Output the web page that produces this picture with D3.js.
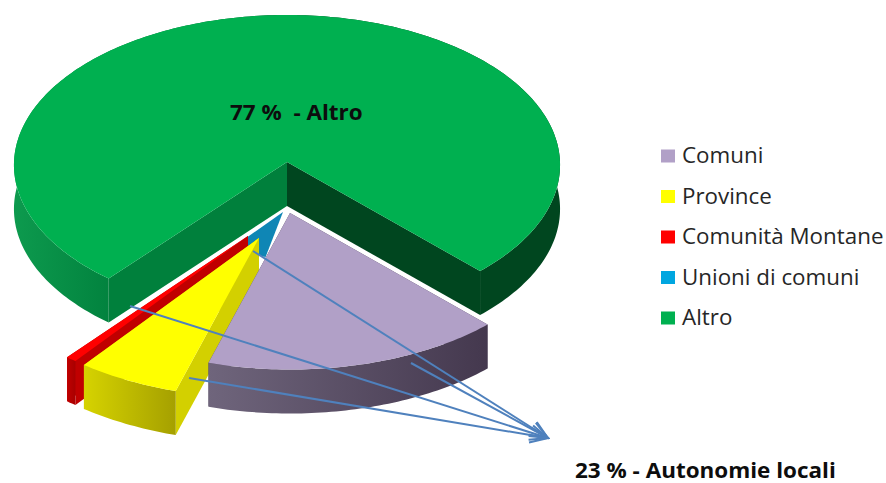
<!DOCTYPE html>
<html>
<head>
<meta charset="utf-8">
<script src="https://cdn.jsdelivr.net/npm/d3@7"></script>
<style>
  html, body { margin: 0; padding: 0; background: #fff; }
  svg { display: block; }
  text { font-family: "Open Sans", sans-serif; fill: #262626; }
  .note { font-weight: 700; fill: #0d0d0d; white-space: pre; }
</style>
</head>
<body>
<div id="chart"></div>
<script>
// ============================================================
//  Data
// ============================================================

const categories = ['Comuni', 'Province', 'Comunità Montane', 'Unioni di comuni', 'Altro'];
const shares = [16.9, 5.7, 0.6, 0.2, 76.6];
const noteAltro = '77 %  - Altro';
const noteLocal = '23 % - Autonomie locali';

// ============================================================
//  Layout
// ============================================================

const width = 886;
const height = 483;
const cx = 287, cy = 162;
const rx = 273, ry = 150;
const depth = 44;
const perspective = 0.02; // front of the pie is drawn a bit larger

const topColors = ['#b1a0c7', '#ffff00', '#ff0000', '#0f86b5', '#00b050'];
const swatchColors = ['#b1a0c7', '#ffff00', '#ff0000', '#00a6e0', '#00b050'];
const sideColors = ['#4b3f55', '#d3d000', '#c00000', '#0f86b5'];
const wallStops = [
  ['#6f657c', '#44384e'],
  ['#d6d300', '#a5a000'],
  ['#c00000', '#a80000'],
  ['#0f86b5', '#0f86b5']
];

// explode offset and radius factor per slice
const explode = [[3, 51], [-28, 76], [-39, 74], [-4, 50], [0, 0]];
const radiusK = [1.023, 1.045, 1.03, 0.3, 1];

const arrowStarts = [[253, 251], [130, 306], [189, 378], [411, 363]];
const arrowTip = [548, 438];

const deg = Math.PI / 180;

const pie = d3.pie().sort(null)
  .startAngle(135.8 * deg)
  .endAngle((135.8 + 360) * deg);

const arcs = pie(shares);

// the blue slice shows up behind the others as a wider wedge
arcs[3].startAngle = 192 * deg;
arcs[3].endAngle = 218 * deg;

function project(a, k, i, drop = 0) {
  const p = k * (1 - perspective * Math.cos(a));
  return [
    cx + explode[i][0] + Math.sin(a) * rx * p,
    cy + explode[i][1] - Math.cos(a) * ry * p + drop
  ];
}

function arcPoints(d, i, drop) {
  const n = Math.ceil((d.endAngle - d.startAngle) / deg);
  return d3.range(n + 1).map(s =>
    project(d.startAngle + (d.endAngle - d.startAngle) * s / n, radiusK[i], i, drop));
}

const line = d3.line();

const svg = d3.select('#chart').append('svg')
  .attr('width', width)
  .attr('height', height);

const defs = svg.append('defs');

wallStops.forEach((c, i) => {
  const g = defs.append('linearGradient')
    .attr('id', `wall-${i}`)
    .attr('x1', 0).attr('x2', 1).attr('y1', 0).attr('y2', 0);
  g.append('stop').attr('offset', 0).attr('stop-color', c[0]);
  g.append('stop').attr('offset', 1).attr('stop-color', c[1]);
});

// Altro's rim runs from mid green on the left to near black green on the right
const altroWall = defs.append('linearGradient')
  .attr('id', 'wall-4')
  .attr('x1', 0).attr('x2', 1).attr('y1', 0).attr('y2', 0);
[[0, '#0d9a4e'], [0.2, '#007f3c'], [0.3, '#007f3c'], [0.5, '#00461f'], [1, '#00461f']].forEach(s => {
  altroWall.append('stop').attr('offset', s[0]).attr('stop-color', s[1]);
});

defs.append('marker')
  .attr('id', 'head')
  .attr('viewBox', '-20 -10 22 20')
  .attr('refX', 0).attr('refY', 0)
  .attr('markerWidth', 22).attr('markerHeight', 20)
  .attr('markerUnits', 'userSpaceOnUse')
  .attr('orient', 'auto')
  .append('path')
  .attr('d', 'M-18,-7.5L0,0L-18,7.5')
  .attr('fill', 'none')
  .attr('stroke', '#4f81bd')
  .attr('stroke-width', 2);

// ============================================================
//  Slices (back to front)
// ============================================================

function drawSlice(i) {
  const d = arcs[i];
  const g = svg.append('g').attr('class', 'slice');
  const apex = project(0, 0, i);
  const apexLow = project(0, 0, i, depth);

  if (i !== 3) {
    // side walls of the cut
    [d.startAngle, d.endAngle].forEach(a => {
      const p = project(a, radiusK[i], i);
      const q = project(a, radiusK[i], i, depth);
      g.append('path')
        .attr('d', line([apex, p, q, apexLow]) + 'Z')
        .attr('fill', sideColors[i]);
    });

    // outer wall
    const upper = arcPoints(d, i, 0);
    const lower = arcPoints(d, i, depth).reverse();
    g.append('path')
      .attr('d', line(upper.concat(lower)) + 'Z')
      .attr('fill', `url(#wall-${i})`);
  }

  // top face
  g.append('path')
    .attr('d', line([apex].concat(arcPoints(d, i, 0))) + 'Z')
    .attr('fill', topColors[i]);
}

// Altro gets its two inner walls painted separately
function drawAltro() {
  const i = 4;
  const d = arcs[i];
  const g = svg.append('g');
  const apex = project(0, 0, i);
  const apexLow = project(0, 0, i, depth);
  const upper = arcPoints(d, i, 0);
  const lower = arcPoints(d, i, depth).reverse();

  g.append('path')
    .attr('d', line(upper.concat(lower)) + 'Z')
    .attr('fill', 'url(#wall-4)');

  const left = project(d.startAngle, 1, i);
  const leftLow = project(d.startAngle, 1, i, depth);
  const right = project(d.endAngle, 1, i);
  const rightLow = project(d.endAngle, 1, i, depth);

  g.append('path').attr('d', line([apex, left, leftLow, apexLow]) + 'Z').attr('fill', '#00803c');
  g.append('path').attr('d', line([apex, right, rightLow, apexLow]) + 'Z').attr('fill', '#00461f');

  g.append('path')
    .attr('d', line([apex].concat(upper)) + 'Z')
    .attr('fill', topColors[i]);
}

drawAltro();
[3, 2, 1, 0].forEach(drawSlice);

// ============================================================
//  Arrows and notes
// ============================================================

svg.selectAll('.arrow')
  .data(arrowStarts)
  .join('path')
  .attr('class', 'arrow')
  .attr('d', d => line([d, arrowTip]))
  .attr('fill', 'none')
  .attr('stroke', '#4f81bd')
  .attr('stroke-width', 2)
  .attr('marker-end', 'url(#head)');

svg.append('text').attr('class', 'note')
  .attr('transform', 'translate(230,120) scale(1.07,1)')
  .attr('font-size', 21)
  .text(noteAltro);

svg.append('text').attr('class', 'note')
  .attr('transform', 'translate(575,478) scale(1.07,1)')
  .attr('font-size', 21)
  .text(noteLocal);

// ============================================================
//  Legend
// ============================================================

const legendY = d3.scalePoint().domain(categories).range([156, 318]);

const legend = svg.selectAll('.legend')
  .data(categories)
  .join('g')
  .attr('class', 'legend')
  .attr('transform', d => `translate(661,${legendY(d)})`);

legend.append('rect')
  .attr('x', 0).attr('y', -6.5)
  .attr('width', 14).attr('height', 13)
  .attr('fill', (d, i) => swatchColors[i]);

legend.append('text')
  .attr('transform', 'translate(21,7) scale(1.065,1)')
  .attr('font-size', 21)
  .text(d => d);
</script>
</body>
</html>
